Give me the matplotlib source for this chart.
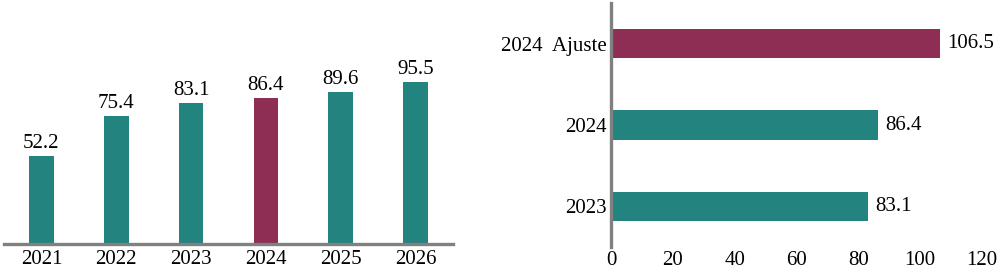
import matplotlib
matplotlib.use("Agg")
import matplotlib.pyplot as plt

plt.rcParams['font.family'] = ['Liberation Serif', 'DejaVu Serif']

years = ["2021", "2022", "2023", "2024", "2025", "2026"]
values = [52.2, 75.4, 83.1, 86.4, 89.6, 95.5]
highlight_year = "2024"

cmp_labels = ["2023", "2024", "2024  Ajuste"]
cmp_values = [83.1, 86.4, 106.5]
cmp_highlight = "2024  Ajuste"
xticks_right = [0, 20, 40, 60, 80, 100, 120]

TEAL = "#23837F"
MAROON = "#8E2E55"
GRAY = "#808080"
FS = 15

fig = plt.figure(figsize=(10.03, 2.75), dpi=100)

# Left: vertical bars
ax1 = fig.add_axes([4/1003, 31/275, 449/1003, 244/275])
x = list(range(len(years)))
colors1 = [MAROON if y == highlight_year else TEAL for y in years]
bars = ax1.bar(x, values, width=0.33, color=colors1)
ax1.set_xlim(-0.5, 5.5)
ax1.set_ylim(0, 144)
for b, v in zip(bars, values):
    ax1.annotate(f"{v:.1f}", (b.get_x() + b.get_width()/2, v), xytext=(0, 2),
                 textcoords="offset points", ha="center", va="bottom", fontsize=FS)
ax1.set_xticks(x)
ax1.set_xticklabels(years, fontsize=FS)
ax1.tick_params(axis="x", length=0, pad=4)
ax1.set_yticks([])
for s in ["top", "left", "right"]:
    ax1.spines[s].set_visible(False)
ax1.spines["bottom"].set_color(GRAY)
ax1.spines["bottom"].set_linewidth(2.4)

# Right: horizontal bars
ax2 = fig.add_axes([611/1003, 28/275, 371/1003, 244/275])
y = list(range(len(cmp_labels)))
colors2 = [MAROON if l == cmp_highlight else TEAL for l in cmp_labels]
hb = ax2.barh(y, cmp_values, height=0.36, color=colors2)
ax2.set_xlim(0, 120)
ax2.set_ylim(-0.5, 2.5)
for b, v in zip(hb, cmp_values):
    ax2.annotate(f"{v:.1f}", (v, b.get_y() + b.get_height()/2), xytext=(5, 0),
                 textcoords="offset points", ha="left", va="center", fontsize=FS)
ax2.set_yticks(y)
ax2.set_yticklabels(cmp_labels, fontsize=FS)
ax2.set_xticks(xticks_right)
ax2.set_xticklabels([str(t) for t in xticks_right], fontsize=FS)
ax2.tick_params(axis="both", length=0)
ax2.tick_params(axis="y", pad=3)
ax2.tick_params(axis="x", pad=3)
for s in ["top", "bottom", "right"]:
    ax2.spines[s].set_visible(False)
ax2.spines["left"].set_color(GRAY)
ax2.spines["left"].set_linewidth(2.4)

fig.savefig("out.png", dpi=100)
